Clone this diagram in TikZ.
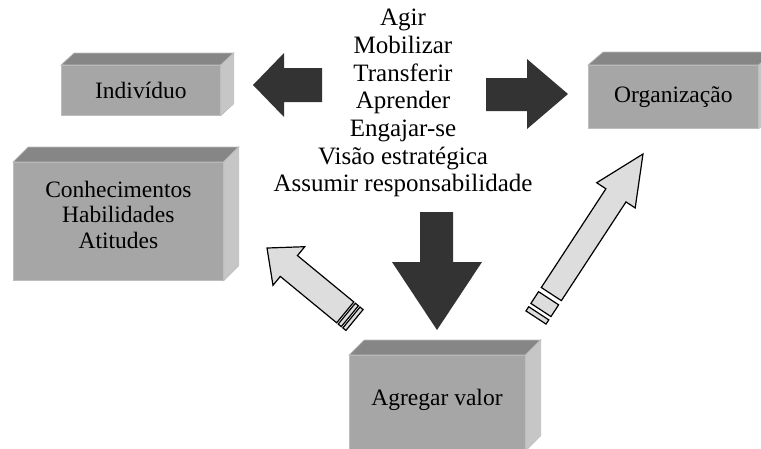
\documentclass[tikz,border=0pt]{standalone}
\usepackage{fontspec}
\setmainfont{Liberation Serif}
\usetikzlibrary{calc}
\definecolor{frontc}{HTML}{A6A6A6}
\definecolor{topc}{HTML}{868686}
\definecolor{sidec}{HTML}{C6C6C6}
\definecolor{edgec}{HTML}{BDBDBD}
\definecolor{darkar}{HTML}{333333}
\definecolor{lightar}{HTML}{DDDDDD}
\newcommand\boxfaces[3]{%
  \draw[boxtop] (#1.north west) -- ++(#2,#3) -- ($(#1.north east)+(#2,#3)$) -- (#1.north east) -- cycle;
  \draw[boxside] (#1.north east) -- ++(#2,#3) -- ($(#1.south east)+(#2,#3)$) -- (#1.south east) -- cycle;}
\newcommand\bandshape[3]{% from, to, half width
  \draw[lightarrow] (#1,-#3) -- (#2,-#3) -- (#2,#3) -- (#1,#3) -- cycle;}
\begin{document}
\begin{tikzpicture}[x=1pt,y=-1pt,
  boxfront/.style={draw=edgec,line width=0.7pt,fill=frontc,inner sep=0pt,anchor=north west,align=center,font=\fontsize{23.5}{25.5}\selectfont},
  boxtop/.style={draw=edgec,line width=0.7pt,fill=topc},
  boxside/.style={draw=edgec,line width=0.7pt,fill=sidec},
  boxtext/.style={font=\fontsize{23.5}{25.5}\selectfont,align=center,inner sep=0pt},
  darkarrow/.style={fill=darkar},
  lightarrow/.style={fill=lightar,draw=black,line width=1.2pt,line join=miter},
  midtext/.style={font=\fontsize{25}{27.7}\selectfont,align=center,inner sep=0pt}]
\useasboundingbox (0,0) rectangle (761,448);
\clip (0,0) rectangle (761,448);

% boxes
\node[boxfront,minimum width=159pt,minimum height=50pt] (ind) at (61,65) {Indivíduo};
\boxfaces{ind}{13}{-12}
\node[boxfront,minimum width=210pt,minimum height=118pt] (con) at (13,162) {};
\boxfaces{con}{15}{-15}
\node[boxtext] (contxt) at ($(con.center)+(0,-6.5)$) {Conhecimentos\\Habilidades\\Atitudes};
\node[boxfront,minimum width=170pt,minimum height=63pt] (org) at (588,65) {Organização};
\boxfaces{org}{15}{-13}
\node[boxfront,minimum width=176pt,minimum height=95pt] (agr) at (349,355) {};
\boxfaces{agr}{15}{-15}
\node[boxtext] (agrtxt) at (437,400) {Agregar valor};

% central text
\node[midtext,anchor=north] (verbs) at (403,9) {Agir\\Mobilizar\\Transferir\\Aprender\\Engajar-se\\Visão estratégica\\Assumir responsabilidade};

% dark block arrows
\fill[darkarrow] (253,85) -- (284,53) -- (284,68) -- (322,68) -- (322,102) -- (284,102) -- (284,117) -- cycle;
\fill[darkarrow] (568,94) -- (527,59) -- (527,78) -- (486,78) -- (486,111) -- (527,111) -- (527,129) -- cycle;
\fill[darkarrow] (437,330) -- (392,262) -- (420,262) -- (420,212) -- (453,212) -- (453,262) -- (482,262) -- cycle;

% light striped arrows
\coordinate (latail) at (354.5,320);
\coordinate (ratail) at (536,317.5);
\begin{scope}[shift={(latail)},rotate=140.55]
  \draw[lightarrow] (12,-13.5) -- (85,-13.5) -- (85,-25) -- (113.3,0) -- (85,25) -- (85,13.5) -- (12,13.5) -- cycle;
  \bandshape{6}{10}{13.5}
  \bandshape{0}{4}{13.5}
\end{scope}
\begin{scope}[shift={(ratail)},rotate=56.8]
  \draw[lightarrow] (28,-12) -- (146,-12) -- (146,-23) -- (195.4,0) -- (146,23) -- (146,12) -- (28,12) -- cycle;
  \bandshape{9}{23}{12}
  \bandshape{0}{5}{12}
\end{scope}
\end{tikzpicture}
\end{document}
